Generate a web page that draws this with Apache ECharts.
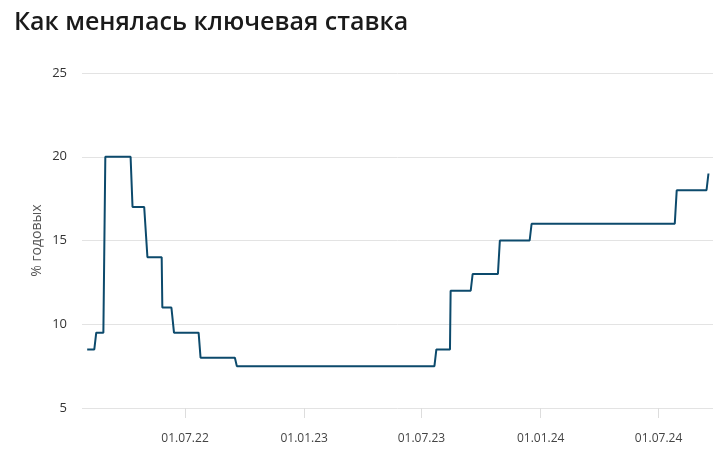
<!DOCTYPE html>
<html>
<head>
<meta charset="utf-8">
<script src="https://cdn.jsdelivr.net/npm/echarts@6/dist/echarts.min.js"></script>
<style>
html,body{margin:0;padding:0;background:#fff;}
#chart{width:720px;height:470px;}
</style>
</head>
<body>
<div id="chart"></div>
<script>
// Key rate data (business-day observations around each change)
var dates = [
  '2022-01-31','2022-02-11','2022-02-14','2022-02-25','2022-02-28',
  '2022-04-08','2022-04-11','2022-04-29','2022-05-04','2022-05-26','2022-05-27',
  '2022-06-10','2022-06-14','2022-07-22','2022-07-25','2022-09-16','2022-09-19',
  '2023-07-21','2023-07-24','2023-08-14','2023-08-15','2023-09-15','2023-09-18',
  '2023-10-27','2023-10-30','2023-12-15','2023-12-18','2024-07-26','2024-07-29',
  '2024-09-13','2024-09-16'
];
var rates = [
  8.5, 8.5, 9.5, 9.5, 20,
  20, 17, 17, 14, 14, 11,
  11, 9.5, 9.5, 8, 8, 7.5,
  7.5, 8.5, 8.5, 12, 12, 13,
  13, 15, 15, 16, 16, 18,
  18, 19
];
var tickDates = ['2022-07-01','2023-01-01','2023-07-01','2024-01-01','2024-07-01'];
var axisStart = '2022-01-23';
var axisEnd = '2024-09-23';
var yTicks = [5, 10, 15, 20, 25];

function ts(s){ var p = s.split('-'); return Date.UTC(+p[0], +p[1]-1, +p[2]); }
function pad(n){ return (n<10?'0':'')+n; }
function fmt(v){ var d = new Date(v); return pad(d.getUTCDate())+'.'+pad(d.getUTCMonth()+1)+'.'+String(d.getUTCFullYear()).slice(2); }

var seriesData = dates.map(function(d,i){ return [ts(d), rates[i]]; });
var tickVals = tickDates.map(ts);

var chart = echarts.init(document.getElementById('chart'), null, {renderer:'canvas'});
chart.setOption({
  animation: false,
  backgroundColor: '#fff',
  title: {
    text: 'Как менялась ключевая ставка',
    left: 14, top: 10, padding: 0,
    textStyle: {fontFamily: 'Open Sans', fontSize: 25, fontWeight: 600, color: '#1a1a1a'}
  },
  grid: {left: 82, right: 7, top: 73, bottom: 62, containLabel: false},
  xAxis: {
    type: 'value',
    min: ts(axisStart), max: ts(axisEnd),
    axisLine: {show: false},
    splitLine: {show: false},
    axisTick: {show: true, customValues: tickVals, length: 10, lineStyle: {color: '#dddddd', width: 1}},
    axisLabel: {customValues: tickVals, formatter: fmt, margin: 25,
      fontFamily: 'Open Sans', fontSize: 12, color: '#444'}
  },
  yAxis: {
    type: 'value', min: yTicks[0], max: yTicks[yTicks.length-1], interval: 5,
    name: '% годовых', nameLocation: 'middle', nameGap: 38, nameMoveOverlap: false,
    nameTextStyle: {fontFamily: 'Open Sans', fontSize: 14, color: '#555'},
    axisLine: {show: false}, axisTick: {show: false},
    axisLabel: {margin: 15, fontFamily: 'Open Sans', fontSize: 13, color: '#333'},
    splitLine: {lineStyle: {color: '#e3e3e3', width: 1}}
  },
  series: [{
    type: 'line',
    data: seriesData,
    showSymbol: false,
    lineStyle: {color: '#0c4a6c', width: 2},
    itemStyle: {color: '#0c4a6c'}
  }]
});
</script>
</body>
</html>
